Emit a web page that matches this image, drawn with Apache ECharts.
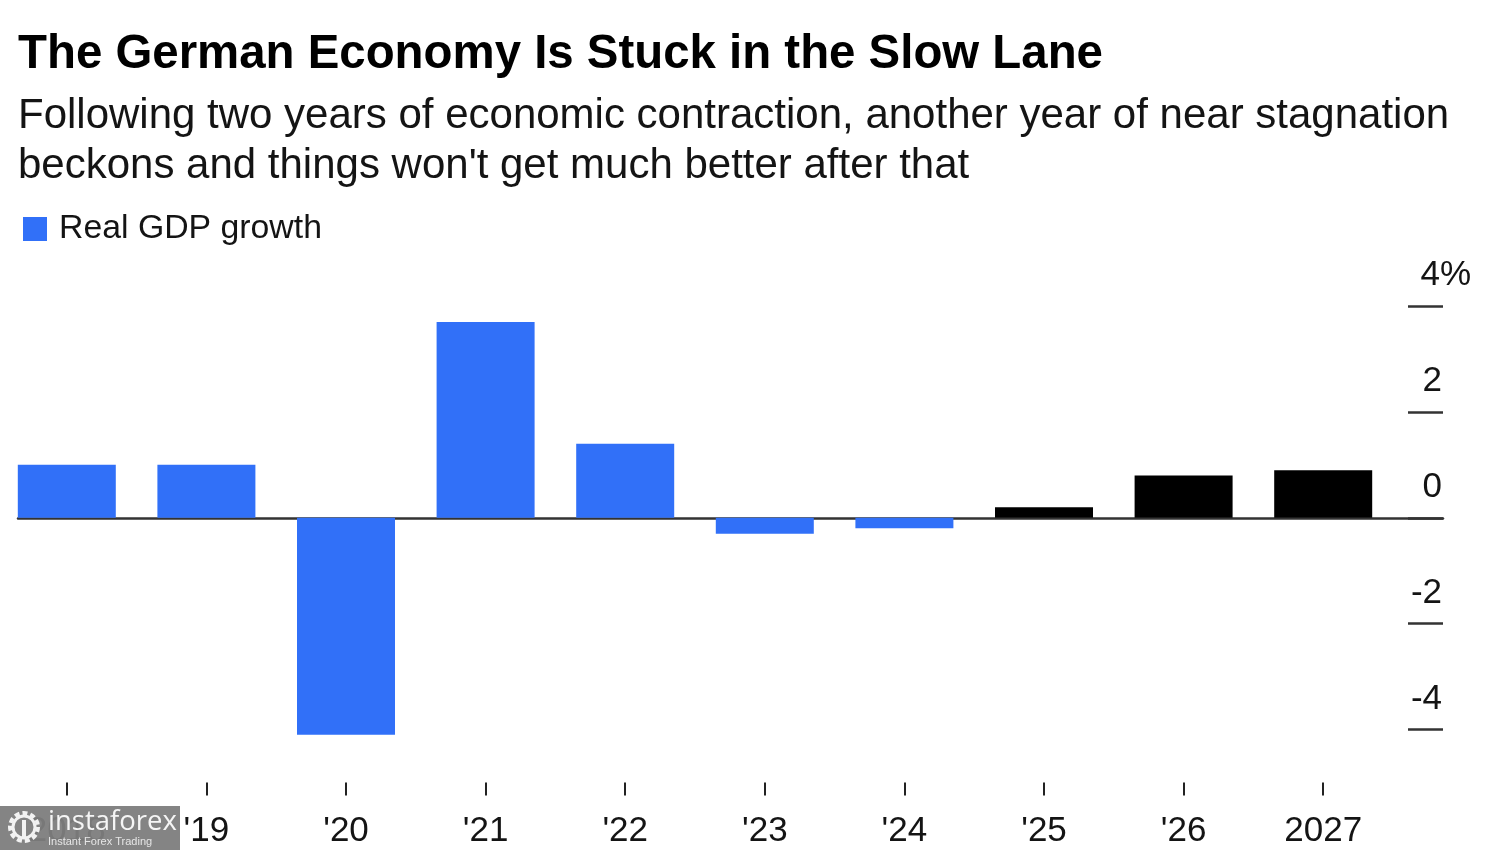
<!DOCTYPE html>
<html>
<head>
<meta charset="utf-8">
<title>The German Economy Is Stuck in the Slow Lane</title>
<style>
  html, body { margin: 0; padding: 0; background: #fff; overflow: hidden; }
  /* 第一根柱子的类目带超出左边，整体左移3px */
  #main { width: 1503px; height: 850px; margin-left: -3px; }
</style>
<script src="https://cdn.jsdelivr.net/npm/echarts@6/dist/echarts.min.js"></script>
</head>
<body>
<div id="main"></div>
<script>
// 数据
const years = ['2018', "'19", "'20", "'21", "'22", "'23", "'24", "'25", "'26", '2027'];
const actual = [1.0, 1.0, -4.1, 3.7, 1.4, -0.3, -0.2, null, null, null];
const forecast = [null, null, null, null, null, null, null, 0.2, 0.8, 0.9];
const yTicks = [-4, -2, 0, 2, 4];

const FONT = '"Liberation Sans", Arial, sans-serif';
const BLUE = '#3170f8';
const TEXT = '#141414';

const myChart = echarts.init(document.getElementById('main'));

const option = {
    backgroundColor: '#ffffff',
    animation: false,
    textStyle: { fontFamily: FONT },
    title: [
        {
            text: 'The German Economy Is Stuck in the Slow Lane',
            left: 21, top: 31, padding: 0,
            textStyle: { fontFamily: FONT, fontSize: 47.4, fontWeight: 'bold', color: '#000' }
        },
        {
            text: "Following two years of economic contraction, another year of near stagnation\nbeckons and things won't get much better after that",
            left: 21, top: 91, padding: 0,
            textStyle: { fontFamily: FONT, fontSize: 42, fontWeight: 'normal', color: TEXT, lineHeight: 50 }
        }
    ],
    legend: {
        data: ['Real GDP growth'],
        left: 26, top: 212, padding: 0,
        icon: 'rect',
        itemWidth: 24, itemHeight: 24,
        textStyle: { fontFamily: FONT, fontSize: 33.8, color: TEXT, padding: [0, 0, 0, 7] }
    },
    grid: [
        // 柱子和x轴
        { left: 0, width: 1396, top: 306, bottom: 67.5 },
        // 基线和右侧y轴
        { left: 21, width: 1425, top: 306, bottom: 67.5 }
    ],
    xAxis: [
        {
            type: 'category',
            gridIndex: 0,
            data: years,
            position: 'bottom',
            axisLine: { show: false, onZero: false },
            axisTick: { show: true, alignWithLabel: true, length: 13, lineStyle: { color: '#222', width: 2 }, interval: 0 },
            axisLabel: { interval: 0, fontFamily: FONT, fontSize: 35, color: TEXT, margin: 31 }
        },
        {
            type: 'value',
            gridIndex: 1,
            min: 0, max: 1,
            axisLine: { show: true, onZero: true, lineStyle: { color: '#333', width: 2.5 } },
            axisTick: { show: false },
            axisLabel: { show: false },
            splitLine: { show: false }
        }
    ],
    yAxis: [
        {
            type: 'value',
            gridIndex: 0,
            min: -5, max: 4,
            show: false
        },
        {
            type: 'value',
            gridIndex: 1,
            min: -5, max: 4,
            position: 'right',
            axisLine: { show: false, onZero: false },
            axisTick: {
                show: true, inside: true, length: 35,
                customValues: yTicks,
                lineStyle: { color: '#333', width: 2.5 }
            },
            axisLabel: {
                customValues: yTicks,
                margin: 28,
                align: 'right',
                verticalAlign: 'bottom',
                padding: [0, 0, 13, 0],
                fontFamily: FONT, fontSize: 35, color: TEXT,
                formatter: function (v) {
                    return v === 4 ? '{t|4%}' : '{n|' + v + '}';
                },
                rich: {
                    t: { fontFamily: FONT, fontSize: 35, color: TEXT },
                    n: { fontFamily: FONT, fontSize: 35, color: TEXT, padding: [0, 29, 0, 0] }
                }
            },
            splitLine: { show: false }
        }
    ],
    series: [
        {
            name: 'Real GDP growth',
            type: 'bar',
            xAxisIndex: 0, yAxisIndex: 0,
            stack: 'gdp',
            barWidth: 98,
            itemStyle: { color: BLUE },
            data: actual
        },
        {
            name: 'Forecast',
            type: 'bar',
            xAxisIndex: 0, yAxisIndex: 0,
            stack: 'gdp',
            barWidth: 98,
            itemStyle: { color: '#000' },
            data: forecast
        }
    ],
    // 水印盖在2018标签上面
    graphic: [
        {
            type: 'group', left: 3, top: 806, zlevel: 5,
            children: [
                { type: 'rect', zlevel: 5, shape: { x: 0, y: 0, width: 180, height: 44 }, style: { fill: 'rgba(125,125,125,0.95)' } },
                { type: 'circle', zlevel: 5, z: 2, shape: { cx: 24, cy: 21, r: 14 }, style: { fill: 'none', stroke: '#f2f2f2', lineWidth: 4, lineDash: [5, 3] } },
                { type: 'circle', zlevel: 5, z: 2, shape: { cx: 24, cy: 21, r: 11 }, style: { fill: 'none', stroke: '#f2f2f2', lineWidth: 3 } },
                { type: 'rect', zlevel: 5, z: 2, shape: { x: 22, y: 14, width: 4, height: 18 }, style: { fill: '#f2f2f2' } },
                { type: 'text', zlevel: 5, z: 2, style: { x: 48, y: 2, text: 'instaforex', fill: '#f5f5f5', fontFamily: '"Open Sans", sans-serif', fontSize: 27.5 } },
                { type: 'text', zlevel: 5, z: 2, style: { x: 48, y: 30, text: 'Instant Forex Trading', fill: '#e6e6e6', fontFamily: FONT, fontSize: 11 } }
            ]
        }
    ]
};

option && myChart.setOption(option);
</script>
</body>
</html>
